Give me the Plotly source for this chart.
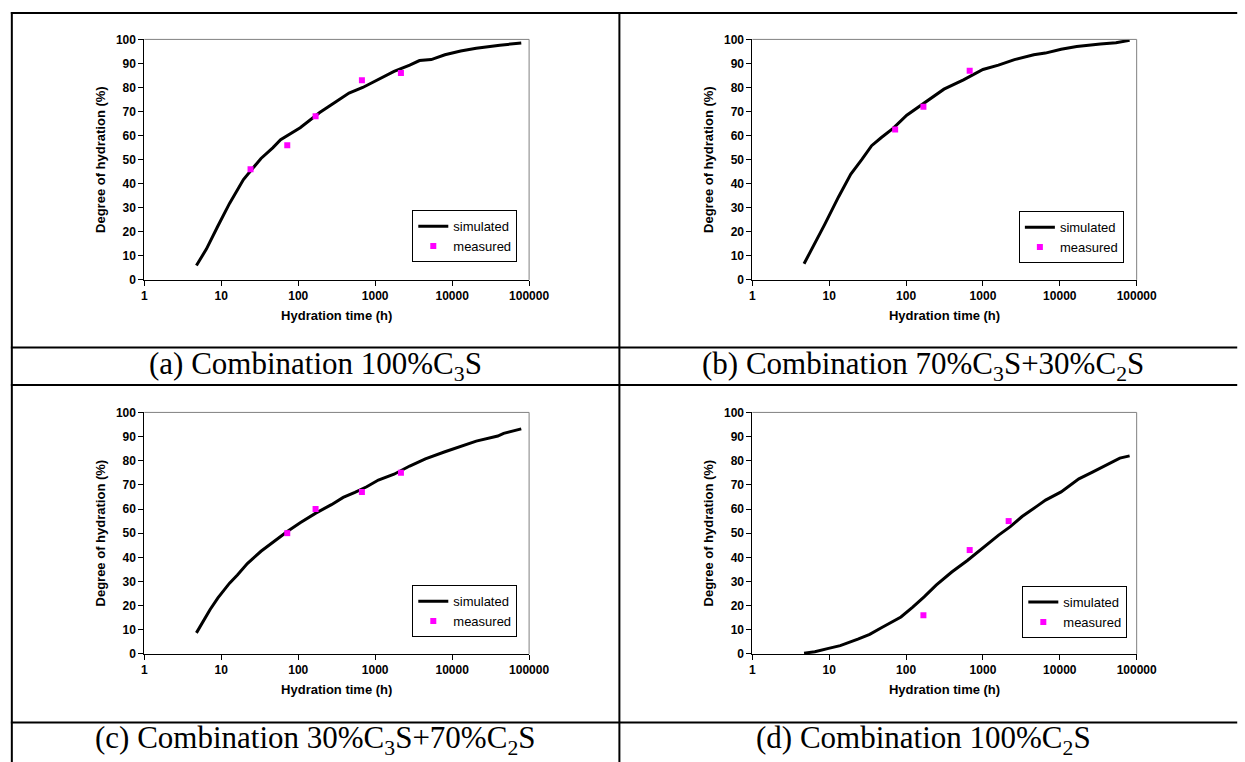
import plotly.graph_objects as go

# ---------------- data ----------------
tick_vals = [1, 10, 100, 1000, 10000, 100000]
tick_text = ["1", "10", "100", "1000", "10000", "100000"]

captions = [
    "(a) Combination 100%C<sub>3</sub>S",
    "(b) Combination 70%C<sub>3</sub>S+30%C<sub>2</sub>S",
    "(c) Combination 30%C<sub>3</sub>S+70%C<sub>2</sub>S",
    "(d) Combination 100%C<sub>2</sub>S",
]

sim_t_a = [4.75, 6.4, 9.0, 12.8, 19.4, 26, 32.8, 46.6, 59, 106, 190, 302, 457, 689,
           1100, 1758, 2810, 3765, 5350, 8060, 12900, 20560, 41600, 79100]
sim_y_a = [6.0, 12.8, 22.3, 31.8, 41.7, 46.7, 50.5, 54.9, 58.3, 63.3, 69.6, 73.9, 77.7, 80.0,
           83.4, 86.7, 89.3, 91.2, 91.6, 93.6, 95.2, 96.3, 97.6, 98.5]
meas_t_a = [24, 72, 168, 672, 2160]
meas_y_a = [46, 56, 68, 83, 86]

sim_t_b = [4.7, 6.1, 8.7, 13.2, 19.1, 26.6, 35.6, 47.7, 67.7, 102, 173, 311, 558, 1000,
           1590, 2570, 4580, 6480, 10400, 16600, 33700, 53800, 81000]
sim_y_b = [6.7, 13.5, 23, 34.5, 44, 50.1, 55.8, 59.2, 63, 68.5, 73.5, 79.3, 83.2, 87.5,
           89.3, 91.6, 93.6, 94.3, 95.9, 97, 98.1, 98.6, 99.6]
meas_t_b = [72, 168, 672]
meas_y_b = [62.5, 72, 87]

sim_t_c = [4.75, 5.66, 7.16, 9.04, 12.8, 16.2, 21.8, 32.8, 52.4, 72, 106, 169, 270, 384,
           545, 776, 1100, 1758, 2810, 4490, 8060, 12900, 20560, 39200, 46700, 79100]
sim_y_c = [8.7, 13, 18.4, 23.2, 29.3, 32.7, 37.4, 42.5, 47.6, 50.7, 54.3, 58.3, 61.8, 64.8,
           66.9, 69.2, 72, 74.4, 77.8, 80.8, 83.7, 85.9, 88.1, 90.2, 91.3, 93.2]
meas_t_c = [72, 168, 672, 2160]
meas_y_c = [50, 60, 67, 75]

sim_t_d = [4.7, 6.5, 9.8, 13.9, 23.6, 33.6, 47.7, 85.7, 122, 173, 246, 393, 627, 1000,
           1600, 2270, 3230, 5160, 6530, 10400, 17700, 26600, 37800, 60400, 81000]
sim_y_d = [0.3, 0.9, 2.3, 3.4, 6.1, 8.1, 10.8, 15.3, 19.4, 23.7, 28.5, 33.9, 38.7, 44.1,
           49.2, 52.7, 56.9, 61.4, 63.7, 67.1, 72.5, 75.3, 77.7, 81.1, 82]
meas_t_d = [168, 672, 2160]
meas_y_d = [16, 43, 55]

# ---------------- layout geometry (pixels) ----------------
W, H = 1245, 762


def fx(x):
    return x / W


def fy(y):
    return 1 - y / H


panels = [
    dict(st=sim_t_a, sy=sim_y_a, mt=meas_t_a, my=meas_y_a, box=(144, 536, 33, 278), leg=(417, 207)),
    dict(st=sim_t_b, sy=sim_y_b, mt=meas_t_b, my=meas_y_b, box=(763.5, 1155, 33, 278), leg=(1035, 208)),
    dict(st=sim_t_c, sy=sim_y_c, mt=meas_t_c, my=meas_y_c, box=(144, 536, 413, 659), leg=(417, 589)),
    dict(st=sim_t_d, sy=sim_y_d, mt=meas_t_d, my=meas_y_d, box=(763.5, 1155, 413, 659), leg=(1038.5, 590)),
]
caption_pos = [(318, 366), (937.5, 366), (318, 747), (937.5, 747)]

SANS = "Liberation Sans, Arial, sans-serif"
SERIF = "Liberation Serif, Times New Roman, serif"

fig = go.Figure()
layout = dict(
    width=W, height=H,
    margin=dict(l=0, r=0, t=0, b=0),
    paper_bgcolor="white", plot_bgcolor="white",
    showlegend=True,
)
shapes = []
annotations = []

for i, p in enumerate(panels):
    n = "" if i == 0 else str(i + 1)
    xa, ya, lg = "x" + n, "y" + n, "legend" + n
    fig.add_trace(go.Scatter(x=p["st"], y=p["sy"], mode="lines", name="simulated",
                             line=dict(color="black", width=3),
                             xaxis=xa, yaxis=ya, legend=lg, hoverinfo="skip"))
    fig.add_trace(go.Scatter(x=p["mt"], y=p["my"], mode="markers", name="measured",
                             marker=dict(symbol="square", color="#FF00FF", size=6),
                             xaxis=xa, yaxis=ya, legend=lg, hoverinfo="skip"))
    x0, x1, y0, y1 = p["box"]
    layout["xaxis" + n] = dict(
        type="log", range=[0, 5], domain=[fx(x0), fx(x1)], anchor=ya,
        tickvals=tick_vals, ticktext=tick_text,
        ticks="outside", ticklen=5, tickcolor="black", tickwidth=1,
        showline=True, linecolor="black", linewidth=1,
        showgrid=False, zeroline=False,
        tickfont=dict(family=SANS, size=12, color="black", weight="bold"),
        title=dict(text="Hydration time (h)", standoff=8,
                   font=dict(family=SANS, size=13, color="black", weight="bold")),
    )
    layout["yaxis" + n] = dict(
        range=[0, 100], domain=[fy(y1), fy(y0)], anchor=xa,
        tick0=0, dtick=10,
        ticks="outside", ticklen=5, tickcolor="black", tickwidth=1,
        showline=True, linecolor="black", linewidth=1,
        showgrid=False, zeroline=False,
        tickfont=dict(family=SANS, size=12, color="black", weight="bold"),
        title=dict(text="Degree of hydration (%)", standoff=7,
                   font=dict(family=SANS, size=13, color="black", weight="bold")),
    )
    lx, ly = p["leg"]
    layout[lg] = dict(
        x=fx(lx), y=fy(ly), xanchor="left", yanchor="top",
        bgcolor="white", bordercolor="black", borderwidth=1,
        font=dict(family=SANS, size=13, color="black"),
        itemwidth=30, tracegroupgap=0,
    )
    # grey plot-area frame (top and right)
    shapes.append(dict(type="line", xref=xa + " domain", yref=ya + " domain",
                       x0=0, x1=1, y0=1, y1=1, line=dict(color="#808080", width=1)))
    shapes.append(dict(type="line", xref=xa + " domain", yref=ya + " domain",
                       x0=1, x1=1, y0=0, y1=1, line=dict(color="#808080", width=1)))
    cx, cy = caption_pos[i]
    annotations.append(dict(text=captions[i], x=fx(cx), y=fy(cy), xref="paper", yref="paper",
                            xanchor="center", yanchor="middle", showarrow=False,
                            font=dict(family=SERIF, size=31, color="black")))

# table rules
TL = dict(color="black", width=2)
for yy in (6, 347, 385, 729):
    shapes.append(dict(type="line", xref="paper", yref="paper",
                       x0=fx(8), x1=1.01, y0=fy(yy), y1=fy(yy), line=TL))
for xx in (9, 628):
    shapes.append(dict(type="line", xref="paper", yref="paper",
                       x0=fx(xx), x1=fx(xx), y0=fy(5), y1=-0.01, line=TL))

layout["shapes"] = shapes
layout["annotations"] = annotations
fig.update_layout(**layout)

fig.write_html("out.html",
               config={"displayModeBar": False},
               post_script="document.body.style.margin='0';document.body.style.overflow='hidden';")
